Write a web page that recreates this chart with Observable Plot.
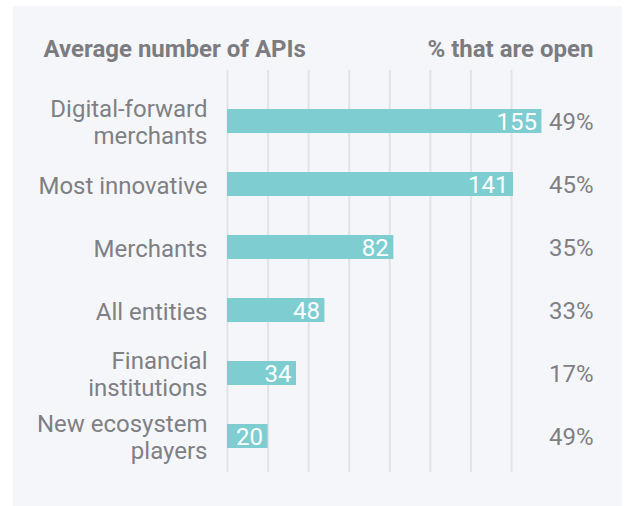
<!DOCTYPE html>
<html>
<head>
<meta charset="utf-8">
<script src="https://cdn.jsdelivr.net/npm/d3@7"></script>
<script src="https://cdn.jsdelivr.net/npm/@observablehq/plot@0.6"></script>
<style>
  html, body { margin: 0; padding: 0; background: #ffffff; }
  #panel { position: absolute; left: 13px; top: 6px; width: 609px; height: 500px; background: #f5f6fa; }
  #panel svg { display: block; font-family: Roboto, "Noto Sans", sans-serif; }
</style>
</head>
<body>
<div id="panel"></div>
<script>
const categories = ["Digital-forward\nmerchants", "Most innovative", "Merchants", "All entities", "Financial\ninstitutions", "New ecosystem\nplayers"];
const apiCounts = [155, 141, 82, 48, 34, 20];
const openShares = ["49%", "45%", "35%", "33%", "17%", "49%"];
const gridTicks = [0, 20, 40, 60, 80, 100, 120, 140];
const leftHeader = "Average number of APIs";
const rightHeader = "% that are open";

const data = categories.map((c, i) => ({category: c, value: apiCounts[i], open: openShares[i]}));

const textColor = "#7f8083";
const barColor = "#7dcdd1";
const fs = 24;

const chart = Plot.plot({
  width: 609,
  height: 500,
  marginLeft: 214,
  marginRight: 111,
  marginTop: 64,
  marginBottom: 34,
  style: {background: "transparent", fontFamily: "Roboto, 'Noto Sans', sans-serif"},
  x: {domain: [0, 140], axis: null},
  y: {domain: categories, axis: null, range: [101, 444], paddingInner: 0.624, paddingOuter: 0},
  marks: [
    Plot.ruleX(gridTicks, {stroke: "#e2e3e5", strokeWidth: 2}),
    Plot.barX(data, {x: "value", y: "category", fill: barColor}),
    Plot.text(data, {x: "value", y: "category", text: d => String(d.value), textAnchor: "end", dx: -5, dy: 1, fill: "#ffffff", fontSize: fs}),
    Plot.text(data, {x: 0, y: "category", text: "category", textAnchor: "end", dx: -20, dy: 0.5, fill: textColor, fontSize: fs, lineHeight: 1.12}),
    Plot.text(data, {frameAnchor: "right", y: "category", text: "open", textAnchor: "end", dx: 82, dy: 1, fill: textColor, fontSize: fs}),
    Plot.text([leftHeader], {frameAnchor: "top-left", text: d => d, textAnchor: "start", lineAnchor: "bottom", dx: -184, dy: -13.3, fill: "#7b7c7f", fontSize: 24, fontWeight: "bold"}),
    Plot.text([rightHeader], {frameAnchor: "top-right", text: d => d, textAnchor: "end", lineAnchor: "bottom", dx: 82, dy: -13.3, fill: "#7b7c7f", fontSize: 24, fontWeight: "bold"})
  ]
});
document.getElementById("panel").appendChild(chart);
</script>
</body>
</html>
